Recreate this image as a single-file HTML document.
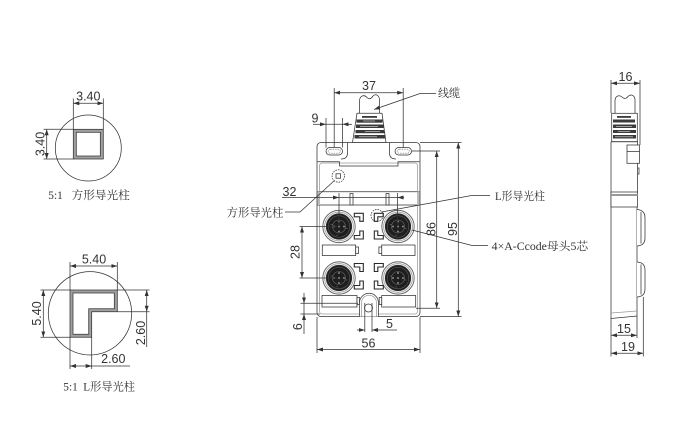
<!DOCTYPE html>
<html><head><meta charset="utf-8">
<style>
html,body{margin:0;padding:0;background:#fff;}
svg{display:block;}
text{font-family:"Liberation Sans",sans-serif;fill:#333;stroke:none;}
.cn{font-family:"Liberation Serif","Noto Serif CJK SC",serif;}
</style></head><body>
<svg width="680" height="440" viewBox="0 0 680 440" xmlns="http://www.w3.org/2000/svg">
<defs>
<marker id="a" viewBox="0 0 6 4" refX="6" refY="2" markerWidth="6" markerHeight="4" markerUnits="userSpaceOnUse" orient="auto-start-reverse"><path d="M0,0L6,2L0,4z" fill="#333"/></marker>
<g id="m12">
<circle r="16.2" fill="#f2f2f2" stroke="#555" stroke-width="0.8"/>
<circle r="14.4" fill="none" stroke="#999" stroke-width="0.7"/>
<circle r="12.8" fill="#1e1e1e" stroke="#333" stroke-width="0.6"/>
<circle r="10.8" fill="none" stroke="#5a5a5a" stroke-width="0.6"/>
<circle r="6.5" fill="none" stroke="#6a6a6a" stroke-width="0.6"/>
<circle cx="0" cy="-5" r="1" fill="#888"/>
<circle cx="5" cy="0" r="1" fill="#888"/>
<circle cx="0" cy="5" r="1" fill="#888"/>
<circle cx="-5" cy="0" r="1" fill="#888"/>
<circle cx="0" cy="0" r="1" fill="#888"/>
<path d="M-8.5,-2 h2 M6.5,2 h2 M-2,8 v1.5" stroke="#777" stroke-width="0.6"/>
</g>
</defs>

<g fill="none" stroke="#333" stroke-width="0.75">
<!-- ===== Square light pipe view ===== -->
<circle cx="88.3" cy="148" r="33"/>
<rect x="74.8" y="130.8" width="27" height="26.7" stroke="#a0a0a0" stroke-width="3"/>
<rect x="73.3" y="129.3" width="30" height="29.7"/>
<rect x="76.3" y="132.3" width="24" height="23.7"/>
<line x1="73.3" y1="98.5" x2="73.3" y2="129.3"/>
<line x1="103.3" y1="98.5" x2="103.3" y2="129.3"/>
<line x1="73.3" y1="103.3" x2="103.3" y2="103.3" marker-start="url(#a)" marker-end="url(#a)"/>
<line x1="43.5" y1="129.3" x2="73.3" y2="129.3"/>
<line x1="43.5" y1="159" x2="73.3" y2="159"/>
<line x1="46.7" y1="129.3" x2="46.7" y2="159" marker-start="url(#a)" marker-end="url(#a)"/>

<!-- ===== L light pipe view ===== -->
<circle cx="90" cy="313.3" r="41.7"/>
<polygon points="71.5,291.5 115.8,291.5 115.8,310.2 90.2,310.2 90.2,335.8 71.5,335.8" stroke="#a0a0a0" stroke-width="3"/>
<polygon points="70,290 117.3,290 117.3,311.7 91.7,311.7 91.7,337.3 70,337.3"/>
<polygon points="73,293 114.3,293 114.3,308.7 88.7,308.7 88.7,334.3 73,334.3"/>
<line x1="70" y1="262" x2="70" y2="290"/>
<line x1="117.3" y1="262" x2="117.3" y2="290"/>
<line x1="70" y1="266" x2="117.3" y2="266" marker-start="url(#a)" marker-end="url(#a)"/>
<line x1="40.5" y1="290" x2="70" y2="290"/>
<line x1="40.5" y1="337.3" x2="70" y2="337.3"/>
<line x1="43.3" y1="290" x2="43.3" y2="337.3" marker-start="url(#a)" marker-end="url(#a)"/>
<line x1="117.3" y1="290" x2="149.5" y2="290"/>
<line x1="117.3" y1="311.7" x2="149.5" y2="311.7"/>
<line x1="146.7" y1="290" x2="146.7" y2="311.7" marker-start="url(#a)" marker-end="url(#a)"/>
<line x1="146.7" y1="311.7" x2="146.7" y2="347"/>
<line x1="70" y1="337.3" x2="70" y2="369"/>
<line x1="91.7" y1="337.3" x2="91.7" y2="369"/>
<line x1="70" y1="366" x2="91.7" y2="366" marker-start="url(#a)" marker-end="url(#a)"/>
<line x1="91.7" y1="366" x2="130" y2="366"/>

<!-- ===== Main body ===== -->
<path d="M359.5,113.3 V101 C359.5,96 364,94 367,97.5 C369,99.5 371,99 373,96 C376,93 379.5,96 379.5,100 V113.3" fill="#fff"/>
<polygon points="357,113.3 382,113.3 386,142.5 352.5,142.5" fill="#fff"/>
<g fill="#3a3a3a" stroke="none">
<rect x="362" y="116" width="15" height="1.8"/>
<rect x="356.5" y="119.5" width="26" height="3.2"/>
<rect x="356" y="124.5" width="27.5" height="3.5"/>
<rect x="355.5" y="130" width="29" height="3.2"/>
<rect x="354.5" y="135" width="30.5" height="3.5"/>
</g>
<g stroke="#ddd" stroke-width="0.6">
<line x1="363" y1="121" x2="375" y2="121"/>
<line x1="360" y1="126.3" x2="378" y2="126.3"/>
<line x1="365" y1="131.6" x2="380" y2="131.6"/>
<line x1="359" y1="136.8" x2="377" y2="136.8"/>
</g>
<rect x="317" y="142.5" width="103" height="174" rx="4" fill="#fff"/>
<rect x="319.6" y="163" width="97.8" height="151" rx="2.5" stroke="#9a9a9a"/>
<path d="M347.5,142.5 V153 Q347.5,159 341,159"/>
<path d="M389.5,142.5 V153 Q389.5,159 396,159"/>
<path d="M317.5,161.8 H339.5 V166 H398 V161.8 H419.5"/>
<rect x="326" y="147.5" width="16.5" height="7.5" rx="3.7"/>
<rect x="328.2" y="149.2" width="12.1" height="4.1" rx="2" stroke="#888" stroke-dasharray="1.5 1"/>
<rect x="395" y="147.5" width="16.5" height="7.5" rx="3.7"/>
<rect x="397.2" y="149.2" width="12.1" height="4.1" rx="2" stroke="#888" stroke-dasharray="1.5 1"/>
<circle cx="338.3" cy="176" r="6.2" stroke-dasharray="1.6 1"/>
<rect x="336" y="173.8" width="4.6" height="4.4"/>
<line x1="317" y1="191.7" x2="420" y2="191.7"/>
<line x1="317" y1="205" x2="420" y2="205"/>
<rect x="350" y="193.5" width="3" height="11.5" fill="#fff"/>
<rect x="386" y="193.5" width="3" height="11.5" fill="#fff"/>
<rect x="317.5" y="191.7" width="2.5" height="13.3" fill="#bbb" stroke="none"/>
<rect x="417" y="191.7" width="2.5" height="13.3" fill="#bbb" stroke="none"/>
</g>

<use href="#m12" transform="translate(339,226.5)"/>
<use href="#m12" transform="translate(398,226.5)"/>
<use href="#m12" transform="translate(339,278)"/>
<use href="#m12" transform="translate(398,278)"/>

<g fill="#fff" stroke="#2a2a2a" stroke-width="1.1">
<polygon points="354.3,213.3 363.3,213.3 363.3,221.3 359.8,221.3 359.8,216.8 354.3,216.8"/>
<polygon points="359.8,231 363.3,231 363.3,239 354.3,239 354.3,235.5 359.8,235.5"/>
<polygon points="374.3,213.3 383.3,213.3 383.3,216.8 377.8,216.8 377.8,221.3 374.3,221.3"/>
<polygon points="374.3,231 377.8,231 377.8,235.5 383.3,235.5 383.3,239 374.3,239"/>
<polygon points="354.3,263.5 363.3,263.5 363.3,271.5 359.8,271.5 359.8,267 354.3,267"/>
<polygon points="359.8,281 363.3,281 363.3,289 354.3,289 354.3,285.5 359.8,285.5"/>
<polygon points="374.3,263.5 383.3,263.5 383.3,267 377.8,267 377.8,271.5 374.3,271.5"/>
<polygon points="374.3,281 377.8,281 377.8,285.5 383.3,285.5 383.3,289 374.3,289"/>
</g>
<g fill="#fff" stroke="#333" stroke-width="0.75">
<rect x="322.3" y="245" width="33.4" height="10.5"/>
<rect x="355.7" y="247" width="2.8" height="6.5"/>
<rect x="381.7" y="245" width="33.3" height="10.5"/>
<rect x="378.9" y="247" width="2.8" height="6.5"/>
<rect x="322" y="295.5" width="35" height="11.5"/>
<rect x="357" y="297.5" width="2.5" height="7"/>
<rect x="381.7" y="295.5" width="34" height="11.5"/>
<rect x="379.2" y="297.5" width="2.5" height="7"/>
<path d="M359.5,316.5 V302.8 A9.5,9.5 0 0 1 378.5,302.8 V316.5"/>
<path d="M361.5,316.5 V302.8 A7.5,7.5 0 0 1 376.5,302.8 V316.5" fill="none" stroke="#999"/>
<circle cx="368.5" cy="308" r="4" fill="none"/>
</g>
<circle cx="377" cy="215.5" r="6" fill="none" stroke="#333" stroke-width="0.75" stroke-dasharray="1.6 1"/>

<g fill="none" stroke="#333" stroke-width="0.75">
<line x1="334.2" y1="88" x2="334.2" y2="147.5"/>
<line x1="403.2" y1="88" x2="403.2" y2="147.5"/>
<line x1="334.2" y1="92.7" x2="403.2" y2="92.7" marker-start="url(#a)" marker-end="url(#a)"/>
<line x1="326" y1="118" x2="326" y2="147.5"/>
<line x1="342.5" y1="118" x2="342.5" y2="147.5"/>
<line x1="313" y1="124.3" x2="326" y2="124.3" marker-end="url(#a)"/>
<line x1="352" y1="124.3" x2="342.5" y2="124.3" marker-end="url(#a)"/>
<line x1="326" y1="124.3" x2="342.5" y2="124.3"/>
<line x1="339" y1="193" x2="339" y2="226.5"/>
<line x1="397.5" y1="193" x2="397.5" y2="226.5"/>
<line x1="282" y1="197.5" x2="339" y2="197.5" marker-end="url(#a)"/>
<line x1="404" y1="197.5" x2="397.5" y2="197.5" marker-end="url(#a)"/>
<line x1="339" y1="197.5" x2="397.5" y2="197.5"/>
<line x1="299.5" y1="226.5" x2="337" y2="226.5"/>
<line x1="299.5" y1="278" x2="337" y2="278"/>
<line x1="302" y1="226.5" x2="302" y2="278" marker-start="url(#a)" marker-end="url(#a)"/>
<line x1="300.5" y1="303.3" x2="358" y2="303.3"/>
<line x1="300.5" y1="314" x2="320" y2="314"/>
<line x1="304" y1="293" x2="304" y2="303.3" marker-end="url(#a)"/>
<line x1="304" y1="334" x2="304" y2="314" marker-end="url(#a)"/>
<line x1="304" y1="303.3" x2="304" y2="314"/>
<line x1="364.8" y1="303" x2="364.8" y2="332"/>
<line x1="372" y1="303" x2="372" y2="332"/>
<line x1="357" y1="330" x2="364.8" y2="330" marker-end="url(#a)"/>
<line x1="397" y1="330" x2="372" y2="330" marker-end="url(#a)"/>
<line x1="317" y1="317" x2="317" y2="353"/>
<line x1="420" y1="317" x2="420" y2="353"/>
<line x1="317" y1="349.5" x2="420" y2="349.5" marker-start="url(#a)" marker-end="url(#a)"/>
<line x1="412" y1="151" x2="440" y2="151"/>
<line x1="416" y1="308.3" x2="440" y2="308.3"/>
<line x1="436.7" y1="151" x2="436.7" y2="308.3" marker-start="url(#a)" marker-end="url(#a)"/>
<line x1="420" y1="142.5" x2="461.5" y2="142.5"/>
<line x1="420" y1="316.5" x2="461.5" y2="316.5"/>
<line x1="458.3" y1="142.5" x2="458.3" y2="316.5" marker-start="url(#a)" marker-end="url(#a)"/>

<polyline points="436,93.5 420,93.5 374,109.5" marker-end="url(#a)"/>
<polyline points="285,212 300,212 334.5,180.5"/>
<polyline points="490,195.5 471.7,195.5 381.5,212"/>
<polyline points="488,245.5 472,245.5 412,230"/>

<!-- ===== Side view ===== -->
<line x1="611" y1="80" x2="611" y2="113"/>
<line x1="640" y1="80" x2="640" y2="145"/>
<line x1="611" y1="83.3" x2="640" y2="83.3" marker-start="url(#a)" marker-end="url(#a)"/>
<path d="M615,113.3 V101 C615,96 619,94.5 622,97 C624,99 626,99 628,96.5 C631,93.5 635,95.5 635,100 V113.3" fill="#fff"/>
<rect x="611.7" y="113.3" width="25.6" height="28.4" fill="#fff"/>
<g fill="#3a3a3a" stroke="none">
<rect x="617" y="116" width="14" height="1.8"/>
<rect x="613" y="119.5" width="22" height="3"/>
<rect x="613" y="124.5" width="23" height="3.5"/>
<rect x="613" y="130" width="23" height="3"/>
<rect x="613" y="135" width="23" height="3.5"/>
</g>
<g stroke="#ddd" stroke-width="0.6">
<line x1="616" y1="126.3" x2="632" y2="126.3"/>
<line x1="618" y1="131.5" x2="630" y2="131.5"/>
<line x1="615" y1="136.8" x2="633" y2="136.8"/>
</g>
<path d="M611,141.7 H637.5 V192 M611,141.7 V318.5 L637,316 V207"/>
<rect x="627" y="145" width="12.5" height="18.3" fill="#fff"/>
<line x1="627" y1="151.5" x2="639.5" y2="151.5"/>
<path d="M637.5,168 h1.5 v6 h-1.5"/>
<rect x="611" y="192" width="26.5" height="15" fill="#fff"/>
<line x1="611" y1="195" x2="637.5" y2="195" stroke="#999" stroke-width="2"/>
<path d="M637,209.5 Q645,210 645,218 V238 Q645,245.5 637,246" fill="#fff"/>
<line x1="641" y1="212" x2="641" y2="243.5"/>
<path d="M637,262 Q645,262.5 645,270 V289 Q645,296.5 637,297" fill="#fff"/>
<line x1="641" y1="264.5" x2="641" y2="294.5"/>
<line x1="611" y1="313" x2="637" y2="311" stroke="#999"/>
<line x1="611" y1="318" x2="611" y2="356.5"/>
<line x1="637" y1="316" x2="637" y2="338"/>
<line x1="643.3" y1="297" x2="643.3" y2="356.5"/>
<line x1="611" y1="335.3" x2="637" y2="335.3" marker-start="url(#a)" marker-end="url(#a)"/>
<line x1="611" y1="353.3" x2="643.3" y2="353.3" marker-start="url(#a)" marker-end="url(#a)"/>
</g>

<!-- ===== Text ===== -->
<g font-size="12.5">
<text x="88.3" y="100.5" text-anchor="middle">3.40</text>
<text transform="translate(44.5,144) rotate(-90)" text-anchor="middle">3.40</text>
<text x="94" y="263.5" text-anchor="middle">5.40</text>
<text transform="translate(40.8,313.5) rotate(-90)" text-anchor="middle">5.40</text>
<text transform="translate(145,333) rotate(-90)" text-anchor="middle">2.60</text>
<text x="113.3" y="363" text-anchor="middle">2.60</text>
<text x="369" y="90" text-anchor="middle">37</text>
<text x="315" y="122.5" text-anchor="middle">9</text>
<text x="289.5" y="195.8" text-anchor="middle">32</text>
<text transform="translate(299.5,252) rotate(-90)" text-anchor="middle">28</text>
<text transform="translate(302,326.7) rotate(-90)" text-anchor="middle">6</text>
<text x="389.5" y="327.8" text-anchor="middle">5</text>
<text x="368.5" y="347.5" text-anchor="middle">56</text>
<text transform="translate(435.3,229) rotate(-90)" text-anchor="middle">86</text>
<text transform="translate(456.8,229) rotate(-90)" text-anchor="middle">95</text>
<text x="625.5" y="81" text-anchor="middle">16</text>
<text x="624" y="333" text-anchor="middle">15</text>
<text x="628" y="351" text-anchor="middle">19</text>
</g>
<g class="cn" font-size="11.3">
<text class="cn" x="48.3" y="199">5:1</text>
<text class="cn" x="71.7" y="199" textLength="58" lengthAdjust="spacingAndGlyphs">方形导光柱</text>
<text class="cn" x="63.3" y="390.5">5:1</text>
<text class="cn" x="83.3" y="390.5" textLength="51.7" lengthAdjust="spacingAndGlyphs">L形导光柱</text>
<text class="cn" x="438" y="96.8" textLength="22" lengthAdjust="spacingAndGlyphs">线缆</text>
<text class="cn" x="226.7" y="216.5" textLength="56.6" lengthAdjust="spacingAndGlyphs">方形导光柱</text>
<text class="cn" x="495" y="200" textLength="50" lengthAdjust="spacingAndGlyphs">L形导光柱</text>
<text class="cn" x="491.7" y="250" textLength="96.5" lengthAdjust="spacingAndGlyphs">4×A-Ccode母头5芯</text>
</g>
</svg>
</body></html>
